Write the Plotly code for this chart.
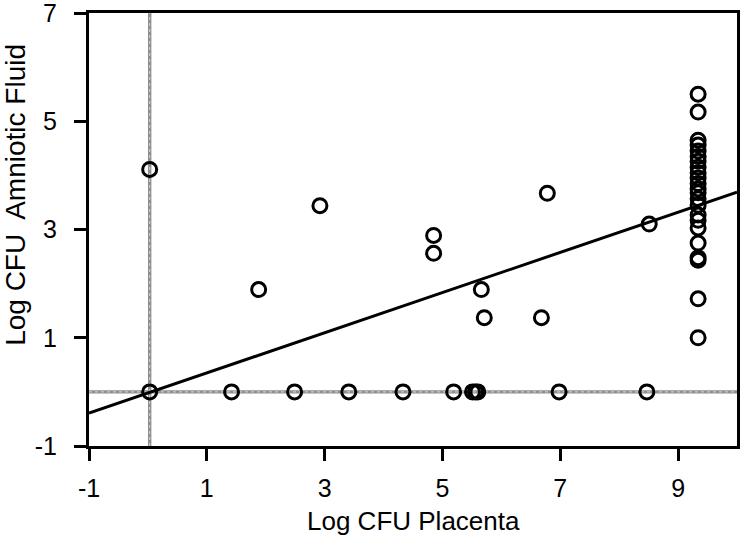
import plotly.graph_objects as go

# Scatter data (Log CFU Placenta vs Log CFU Amniotic Fluid)
x_placenta = [0.03, 0.03, 1.42, 1.88, 2.49, 2.92, 3.41, 4.33, 4.85, 4.85,
              5.19, 5.51, 5.56, 5.60, 5.66, 5.71, 6.68, 6.78, 6.98, 8.47, 8.51]
y_fluid = [4.11, 0.0, 0.0, 1.89, 0.0, 3.44, 0.0, 0.0, 2.89, 2.56,
           0.0, 0.0, 0.0, 0.0, 1.89, 1.37, 1.37, 3.67, 0.0, 0.0, 3.10]

cluster_x = 9.34
cluster_y = [5.50, 5.17, 4.65, 4.56, 4.45, 4.35, 4.26, 4.15, 4.05, 3.95, 3.85,
             3.75, 3.68, 3.57, 3.45, 3.27, 3.17, 3.03, 2.75, 2.48, 2.43, 1.72, 1.00]

# Regression line
fit_intercept = -0.02
fit_slope = 0.371

# Reference (detection limit) lines
ref_x = 0.03
ref_y = 0.0

x_range = [-1, 10]
y_range = [-1, 7]
x_ticks = [-1, 1, 3, 5, 7, 9]
x_tick_text = ["-1", "1", "3", "5", "7", "9"]
y_ticks = [-1, 1, 3, 5, 7]
y_tick_text = ["-1", "1", "3", "5", "7"]

x_title = "Log CFU Placenta"
y_title = "Log CFU\u00a0 Amniotic Fluid"

all_x = x_placenta + [cluster_x] * len(cluster_y)
all_y = y_fluid + cluster_y

fig = go.Figure()

# gray reference lines (double-line look)
for color, width, dash in [("#8f8f8f", 3.4, "solid"), ("#d4d4d4", 1, "dot")]:
    fig.add_trace(go.Scatter(x=[ref_x, ref_x], y=y_range, mode="lines",
                             line=dict(color=color, width=width, dash=dash),
                             hoverinfo="skip", showlegend=False))
    fig.add_trace(go.Scatter(x=x_range, y=[ref_y, ref_y], mode="lines",
                             line=dict(color=color, width=width, dash=dash),
                             hoverinfo="skip", showlegend=False))

fig.add_trace(go.Scatter(
    x=x_range,
    y=[fit_intercept + fit_slope * v for v in x_range],
    mode="lines", line=dict(color="black", width=3),
    showlegend=False))

fig.add_trace(go.Scatter(
    x=all_x, y=all_y, mode="markers",
    marker=dict(symbol="circle-open", size=14, color="black",
                line=dict(color="black", width=3)),
    showlegend=False))

FONT = "Liberation Sans, Arial, sans-serif"
tick_font = dict(family=FONT, size=25, color="black")
xtitle_font = dict(family=FONT, size=26, color="black")
ytitle_font = dict(family=FONT, size=28, color="black")

fig.update_layout(
    width=745, height=537,
    margin=dict(l=89, r=8, t=13, b=91),
    paper_bgcolor="white", plot_bgcolor="white",
    font=tick_font,
    annotations=[
        dict(text=x_title, xref="paper", yref="paper", x=0.5, y=0,
             xanchor="center", yanchor="middle", yshift=-75,
             showarrow=False, font=xtitle_font),
        dict(text=y_title, xref="paper", yref="paper", x=0, y=0.58,
             xanchor="center", yanchor="middle", xshift=-73, textangle=-90,
             showarrow=False, font=ytitle_font),
    ],
)
fig.update_xaxes(
    range=x_range, tickvals=x_ticks, ticktext=x_tick_text,
    showgrid=False, zeroline=False, automargin=False,
    showline=True, linecolor="black", linewidth=3, mirror=True,
    ticks="outside", ticklen=12, tickwidth=2.5, tickcolor="black",
    ticklabelstandoff=6, ticklabeloverflow="allow", tickfont=tick_font,
)
fig.update_yaxes(
    range=y_range, tickvals=y_ticks, ticktext=y_tick_text,
    showgrid=False, zeroline=False, automargin=False,
    showline=True, linecolor="black", linewidth=3, mirror=True,
    ticks="outside", ticklen=12, tickwidth=2.5, tickcolor="black",
    ticklabelstandoff=12, ticklabeloverflow="allow", tickfont=tick_font,
)

# remove the default page margin so the figure fills the window exactly
fig.write_html("out.html",
               config={"displayModeBar": False},
               post_script="document.body.style.margin='0';"
                           "document.body.style.overflow='hidden';")
